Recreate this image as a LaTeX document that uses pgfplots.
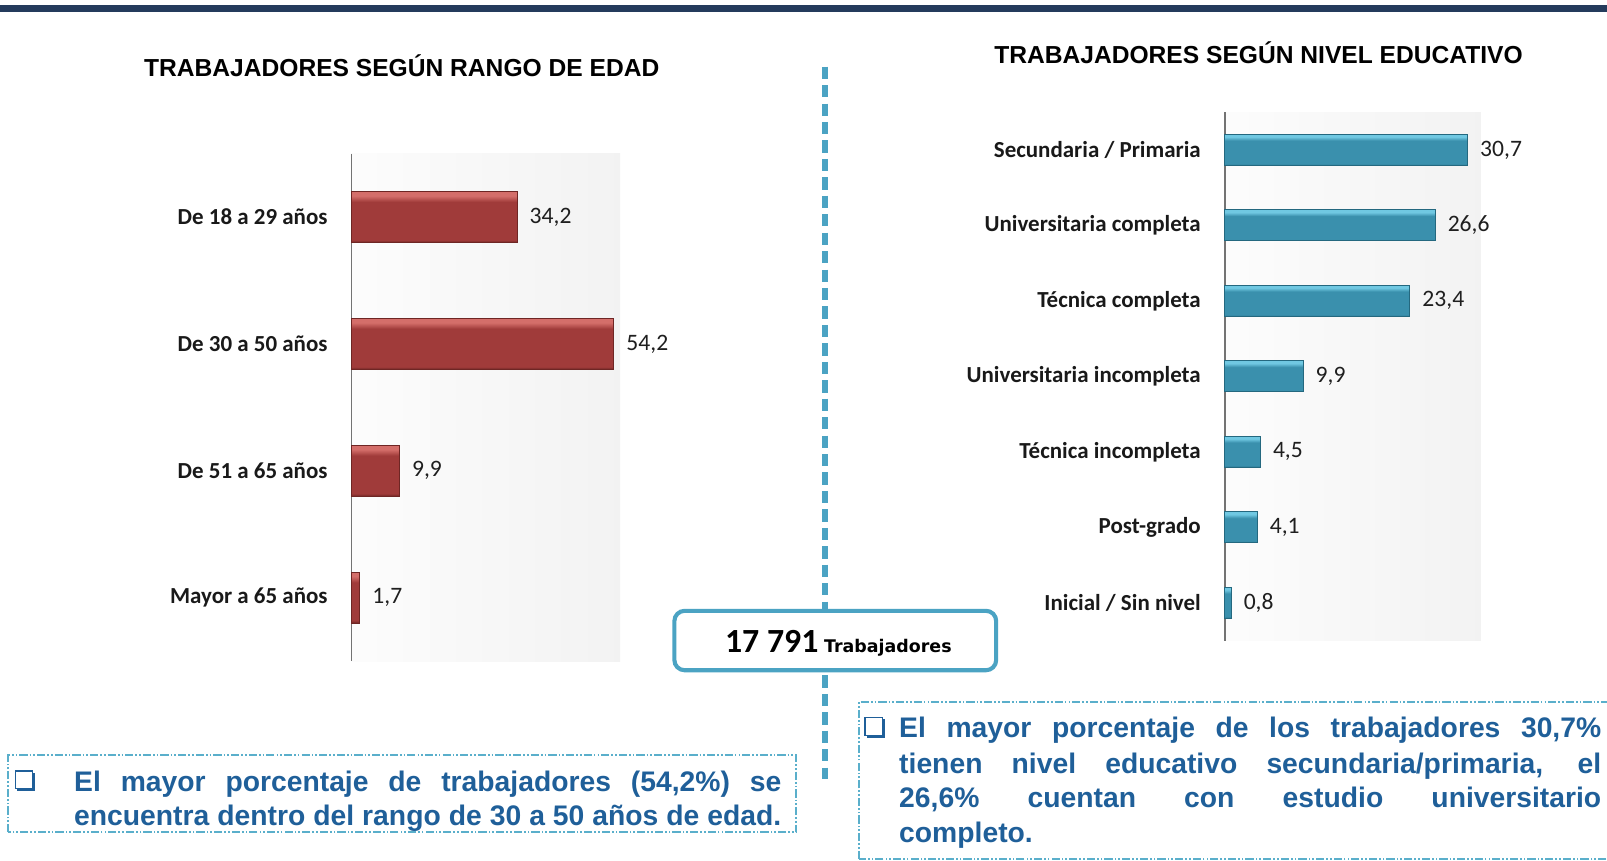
\documentclass[border=0pt]{standalone}
\usepackage{fontspec}
\setmainfont{Liberation Sans}
\newfontfamily\calibri{Carlito}
\newfontfamily\dejavu{DejaVu Sans}
\usepackage{pgfplots}
\pgfplotsset{compat=1.18}
\definecolor{navy}{HTML}{243B5C}
\definecolor{myteal}{HTML}{4BA3C3}
\definecolor{frameteal}{HTML}{5AAFCB}
\definecolor{txtblue}{HTML}{1F5F99}
\definecolor{redbar}{HTML}{A03B3A}
\definecolor{redtop}{HTML}{D46E6A}
\definecolor{redbot}{HTML}{6E2624}
\definecolor{tealbar}{HTML}{3A90AD}
\definecolor{tealtop}{HTML}{70C8E2}
\definecolor{tealbot}{HTML}{24687F}

\pgfdeclareverticalshading{redbevel}{100bp}{color(0bp)=(redbot); color(25bp)=(redbot); color(27.5bp)=(redbar); color(65bp)=(redbar); color(71bp)=(redtop); color(100bp)=(redtop)}
\pgfdeclareverticalshading{tealbevel}{100bp}{color(0bp)=(tealbot); color(25bp)=(tealbot); color(27.5bp)=(tealbar); color(65bp)=(tealbar); color(71bp)=(tealtop); color(100bp)=(tealtop)}

\pgfplotsset{hbar/.style={
  xbar, scale only axis, clip=false, xmin=0, ymin=-0.5, y dir=reverse,
  axis y line*=left, axis x line=none, xtick=\empty,
  y axis line style={draw=black!55, line width=0.8pt},
  major tick length=0pt,
  yticklabel style={font=\calibri\bfseries\fontsize{11.2}{13}\selectfont, inner sep=0pt, xshift=-11.5pt, text=black!90},
  nodes near coords,
  nodes near coords style={font=\calibri\fontsize{11.5}{13}\selectfont, inner sep=0pt, xshift=6pt, anchor=west, text=black!88},
  axis background/.style={left color=black!1, right color=black!5, draw=none},
  /pgf/number format/use comma, /pgf/number format/fixed,
  /pgf/number format/fixed zerofill, /pgf/number format/precision=1,
  /pgf/number format/assume math mode=true,
},
redb/.style={bar width=0.40, bar shift=0pt, shade, shading=redbevel, draw=redbot, line width=0.4pt},
tealb/.style={bar width=0.41, bar shift=0pt, shade, shading=tealbevel, draw=tealbot, line width=0.4pt}}

\begin{document}
\begin{tikzpicture}
\path[use as bounding box] (0,0) rectangle (784pt,420pt);
% top band
\fill[navy] (0,414pt) rectangle (784pt,417.5pt);
% titles
\node[anchor=base, inner sep=0, font=\bfseries\fontsize{12}{14}\selectfont] at (196pt,382.5pt) {TRABAJADORES SEGÚN RANGO DE EDAD};
\node[anchor=base, inner sep=0, font=\bfseries\fontsize{12}{14}\selectfont] at (614pt,389pt) {TRABAJADORES SEGÚN NIVEL EDUCATIVO};
% divider
\draw[myteal, line width=2.5pt, dash pattern=on 6pt off 3pt] (402.5pt,387.5pt) -- (402.5pt,40pt);

% left chart
\begin{axis}[hbar, at={(171.5pt,97.5pt)}, anchor=south west,
  width=131pt, height=247.5pt, xmax=55.5, ymax=3.5,
  ytick={0,1,2,3},
  yticklabels={De 18 a 29 años, De 30 a 50 años, De 51 a 65 años, Mayor a 65 años}]
\addplot[redb] coordinates {(34.2,0)};
\addplot[redb] coordinates {(54.2,1)};
\addplot[redb] coordinates {(9.9,2)};
\addplot[redb] coordinates {(1.7,3)};
\end{axis}

% right chart
\begin{axis}[hbar, at={(597.5pt,107.5pt)}, anchor=south west,
  width=125pt, height=257.8pt, xmax=32.4, ymax=6.5,
  ytick={0,...,6},
  yticklabels={Secundaria / Primaria, Universitaria completa, Técnica completa, Universitaria incompleta, Técnica incompleta, Post-grado, Inicial / Sin nivel}]
\addplot[tealb] coordinates {(30.7,0)};
\addplot[tealb] coordinates {(26.6,1)};
\addplot[tealb] coordinates {(23.4,2)};
\addplot[tealb] coordinates {(9.9,3)};
\addplot[tealb] coordinates {(4.5,4)};
\addplot[tealb] coordinates {(4.1,5)};
\addplot[tealb] coordinates {(0.8,6)};
\end{axis}

% center box
\draw[myteal, line width=2pt, fill=white, rounded corners=5pt] (329pt,93pt) rectangle (486pt,122pt);
\node[anchor=base, inner sep=0] at (409pt,101.5pt) {{\calibri\bfseries\fontsize{16.5}{18}\selectfont 17 791} {\dejavu\bfseries\fontsize{8.5}{10}\selectfont Trabajadores}};

% left text box
\draw[frameteal, line width=0.9pt, dash pattern=on 4pt off 1pt on 0.8pt off 1pt on 0.8pt off 1pt] (4pt,14pt) rectangle (388.5pt,51.5pt);
\draw[txtblue, line width=0.6pt, fill=white] (7.5pt,35.3pt) rectangle (16pt,43.8pt);
\fill[txtblue] (8.3pt,34pt) rectangle (17.3pt,35.3pt);
\fill[txtblue] (16pt,34pt) rectangle (17.3pt,43pt);
\begin{scope}[every node/.style={anchor=base west, inner sep=0, text=txtblue, font=\bfseries\fontsize{13.8}{16}\selectfont}]
\node at (36pt,34pt) {\makebox[345pt][s]{El mayor porcentaje de trabajadores (54,2\%) se}};
\node at (36pt,17.5pt) {\makebox[345pt][s]{encuentra dentro del rango de 30 a 50 años de edad.}};
\end{scope}

% right text box
\draw[frameteal, line width=0.9pt, dash pattern=on 4pt off 1pt on 0.8pt off 1pt on 0.8pt off 1pt] (419pt,1pt) rectangle (800pt,77.5pt);
\draw[txtblue, line width=0.6pt, fill=white] (422pt,61.3pt) rectangle (430.5pt,69.8pt);
\fill[txtblue] (422.8pt,60pt) rectangle (431.8pt,61.3pt);
\fill[txtblue] (430.5pt,60pt) rectangle (431.8pt,69pt);
\begin{scope}[every node/.style={anchor=base west, inner sep=0, text=txtblue, font=\bfseries\fontsize{13.8}{16}\selectfont}]
\node at (438.5pt,60pt) {\makebox[342.5pt][s]{El mayor porcentaje de los trabajadores 30,7\%}};
\node at (438.5pt,42.5pt) {\makebox[342.5pt][s]{tienen nivel educativo secundaria/primaria, el}};
\node at (438.5pt,26pt) {\makebox[342.5pt][s]{26,6\% cuentan con estudio universitario}};
\node at (438.5pt,9pt) {completo.};
\end{scope}
\end{tikzpicture}
\end{document}
